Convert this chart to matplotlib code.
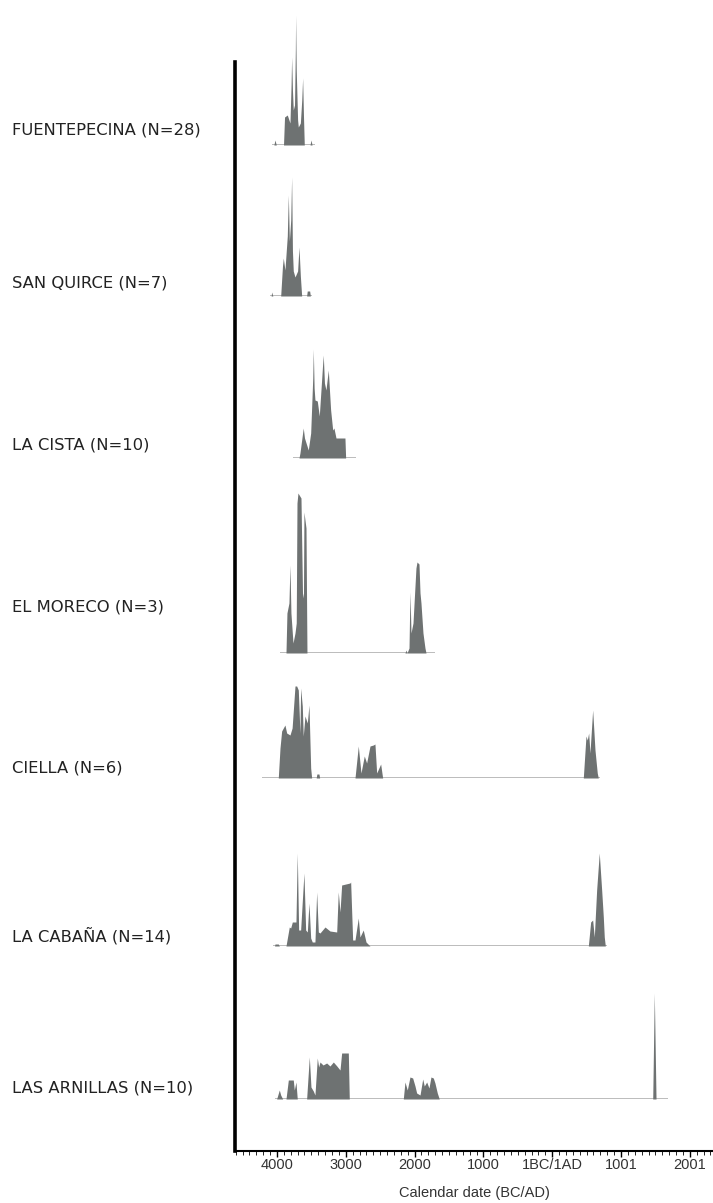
import matplotlib
matplotlib.use('Agg')
import matplotlib.pyplot as plt
import matplotlib.ticker as ticker

# site labels
site_names = ['FUENTEPECINA (N=28)', 'SAN QUIRCE (N=7)', 'LA CISTA (N=10)',
              'EL MORECO (N=3)', 'CIELLA (N=6)', 'LA CABAÑA (N=14)',
              'LAS ARNILLAS (N=10)']

# summed probability, calendar years (BC negative) and relative heights
fuente_years = [-4073, -4045, -4029, -4010, -3905, -3890, -3850, -3811, -3795, -3787,
                -3775, -3763, -3745, -3733, -3729, -3720, -3700, -3690, -3660, -3640,
                -3627, -3615, -3603, -3520, -3505, -3490, -3448]
fuente_probs = [0, 0, 5, 0, 0, 28, 30, 22, 60, 88,
                55, 35, 40, 95, 130, 75, 25, 18, 22, 45,
                67, 30, 0, 0, 5, 0, 0]

quirce_years = [-4102, -4085, -4077, -4060, -3946, -3920, -3908, -3884, -3850, -3835,
                -3820, -3800, -3787, -3775, -3763, -3738, -3700, -3680, -3660, -3641,
                -3569, -3560, -3525, -3515, -3491]
quirce_probs = [0, 0, 4, 0, 0, 30, 38, 26, 60, 101,
                55, 76, 119, 45, 25, 19, 25, 49, 20, 0,
                0, 5, 5, 0, 0]

cista_years = [-3767, -3680, -3666, -3618, -3600, -3545, -3510, -3480, -3472, -3460,
               -3448, -3414, -3385, -3340, -3327, -3310, -3288, -3254, -3220, -3190,
               -3172, -3142, -3012, -3002, -2852]
cista_probs = [0, 0, 5, 30, 20, 8, 25, 80, 109, 70,
               58, 57, 42, 90, 103, 75, 68, 88, 48, 28,
               30, 20, 20, 0, 0]

moreco_years = [-3956, -3869, -3855, -3826, -3811, -3797, -3767, -3738, -3720, -3709,
                -3695, -3651, -3629, -3615, -3608, -3578, -3564,
                -2140, -2125, -2110, -2081, -2067, -2052, -2023, -1980, -1965,
                -1936, -1921, -1907, -1878, -1849, -1834, -1703]
moreco_probs = [0, 0, 40, 50, 88, 40, 10, 20, 30, 150,
                160, 155, 60, 55, 141, 125, 0,
                0, 3, 0, 5, 61, 20, 30, 85, 91,
                89, 60, 50, 20, 5, 0, 0]

ciella_years = [-4222, -3981, -3956, -3932, -3884, -3859, -3811, -3780, -3738, -3714,
                -3690, -3666, -3656, -3632, -3618, -3593, -3559, -3535, -3510, -3496,
                -3430, -3420, -3390, -3380,
                -2866, -2818, -2779, -2731, -2697, -2648, -2600, -2576, -2551, -2493, -2464,
                452, 491, 510, 530, 549, 588, 622, 655, 670, 695]
ciella_probs = [0, 0, 30, 47, 53, 45, 43, 50, 92, 92,
                88, 45, 90, 72, 42, 62, 55, 73, 10, 0,
                0, 4, 4, 0,
                0, 32, 5, 22, 15, 32, 33, 34, 5, 14, 0,
                0, 42, 38, 45, 25, 68, 28, 5, 0, 0]

cabana_years = [-4054, -4035, -4029, -3981, -3965, -3869, -3821, -3801, -3777, -3724,
                -3705, -3685, -3656, -3641, -3608, -3583, -3559, -3535, -3510, -3487,
                -3448, -3423, -3399, -3375, -3302, -3230, -3132, -3109, -3084, -3060,
                -2939, -2929, -2900, -2866, -2818, -2794, -2746, -2706, -2648,
                525, 559, 588, 612, 646, 684, 719, 743, 757, 772, 792]
cabana_probs = [0, 0, 2, 2, 0, 0, 19, 18, 24, 24,
                93, 16, 16, 34, 73, 16, 14, 43, 8, 4,
                4, 54, 14, 13, 19, 15, 14, 54, 34, 61,
                63, 64, 6, 6, 28, 9, 16, 4, 0,
                0, 24, 26, 9, 56, 93, 56, 29, 9, 0, 0]

arnillas_years = [-4029, -4005, -3966, -3946, -3917, -3869, -3835, -3763, -3748, -3724,
                  -3705, -3569, -3530, -3506, -3472, -3448, -3414, -3394, -3375, -3330,
                  -3278, -3230, -3181, -3130, -3084, -3060, -2963, -2949,
                  -2164, -2140, -2106, -2067, -2028, -1994, -1970, -1921, -1882, -1859,
                  -1824, -1791, -1762, -1728, -1704, -1670, -1641,
                  1461, 1484, 1509, 1683]
arnillas_probs = [0, 0, 9, 4, 0, 0, 19, 19, 9, 17,
                  0, 0, 42, 12, 8, 4, 41, 32, 37, 34,
                  36, 33, 37, 33, 29, 46, 46, 0,
                  0, 17, 9, 22, 21, 13, 6, 4, 20, 13,
                  17, 11, 22, 21, 16, 6, 0,
                  0, 106, 0, 0]

tick_years = [-4000, -3000, -2000, -1000, 0, 1000, 2000]
tick_labels = ['4000', '3000', '2000', '1000', '1BC/1AD', '1001', '2001']

W, H = 713, 1203
fig = plt.figure(figsize=(W/100, H/100), dpi=100)

x_left = 235
xlim = (-4610, 2337)
baselines = [145, 296, 458, 653, 778, 946, 1099]
label_y = [130, 283, 445, 607, 768, 936, 1088]
panel_h = 165

# main frame: vertical line + time axis
ax = fig.add_axes([x_left/W, 1 - 1151/H, (W - x_left)/W, (1151 - 62)/H])
ax.set_xlim(*xlim)
ax.set_yticks([])
ax.spines['top'].set_visible(False)
ax.spines['right'].set_visible(False)
ax.spines['left'].set_linewidth(2.6)
ax.spines['bottom'].set_linewidth(1.5)
ax.set_xticks(tick_years)
ax.set_xticklabels(tick_labels, fontfamily='Liberation Sans', fontsize=10.5, color='#333333')
ax.xaxis.set_minor_locator(ticker.MultipleLocator(100))
ax.tick_params(axis='x', which='major', direction='out', length=4, width=1, pad=1)
ax.tick_params(axis='x', which='minor', direction='out', length=3, width=0.6)
ax.set_xlabel('Calendar date (BC/AD)', fontfamily='Liberation Sans', fontsize=10.5,
              color='#333333', labelpad=10)
ax.patch.set_visible(False)

sites = [(fuente_years, fuente_probs), (quirce_years, quirce_probs),
         (cista_years, cista_probs), (moreco_years, moreco_probs),
         (ciella_years, ciella_probs), (cabana_years, cabana_probs),
         (arnillas_years, arnillas_probs)]

for i, (years, probs) in enumerate(sites):
    pax = fig.add_axes([x_left/W, 1 - baselines[i]/H, (W - x_left)/W, panel_h/H])
    pax.set_xlim(*xlim)
    pax.set_ylim(0, panel_h)
    pax.axis('off')
    pax.plot([years[0], years[-1]], [0, 0], color='#a9a9a9', linewidth=1.1,
             solid_capstyle='butt', zorder=1)
    pax.fill_between(years, 0, probs, color='#6e7272', linewidth=0, zorder=2)
    fig.text(12/W, 1 - label_y[i]/H, site_names[i], fontsize=11.8, color='#222222',
             va='center', ha='left')

plt.savefig('out.png', dpi=100)
